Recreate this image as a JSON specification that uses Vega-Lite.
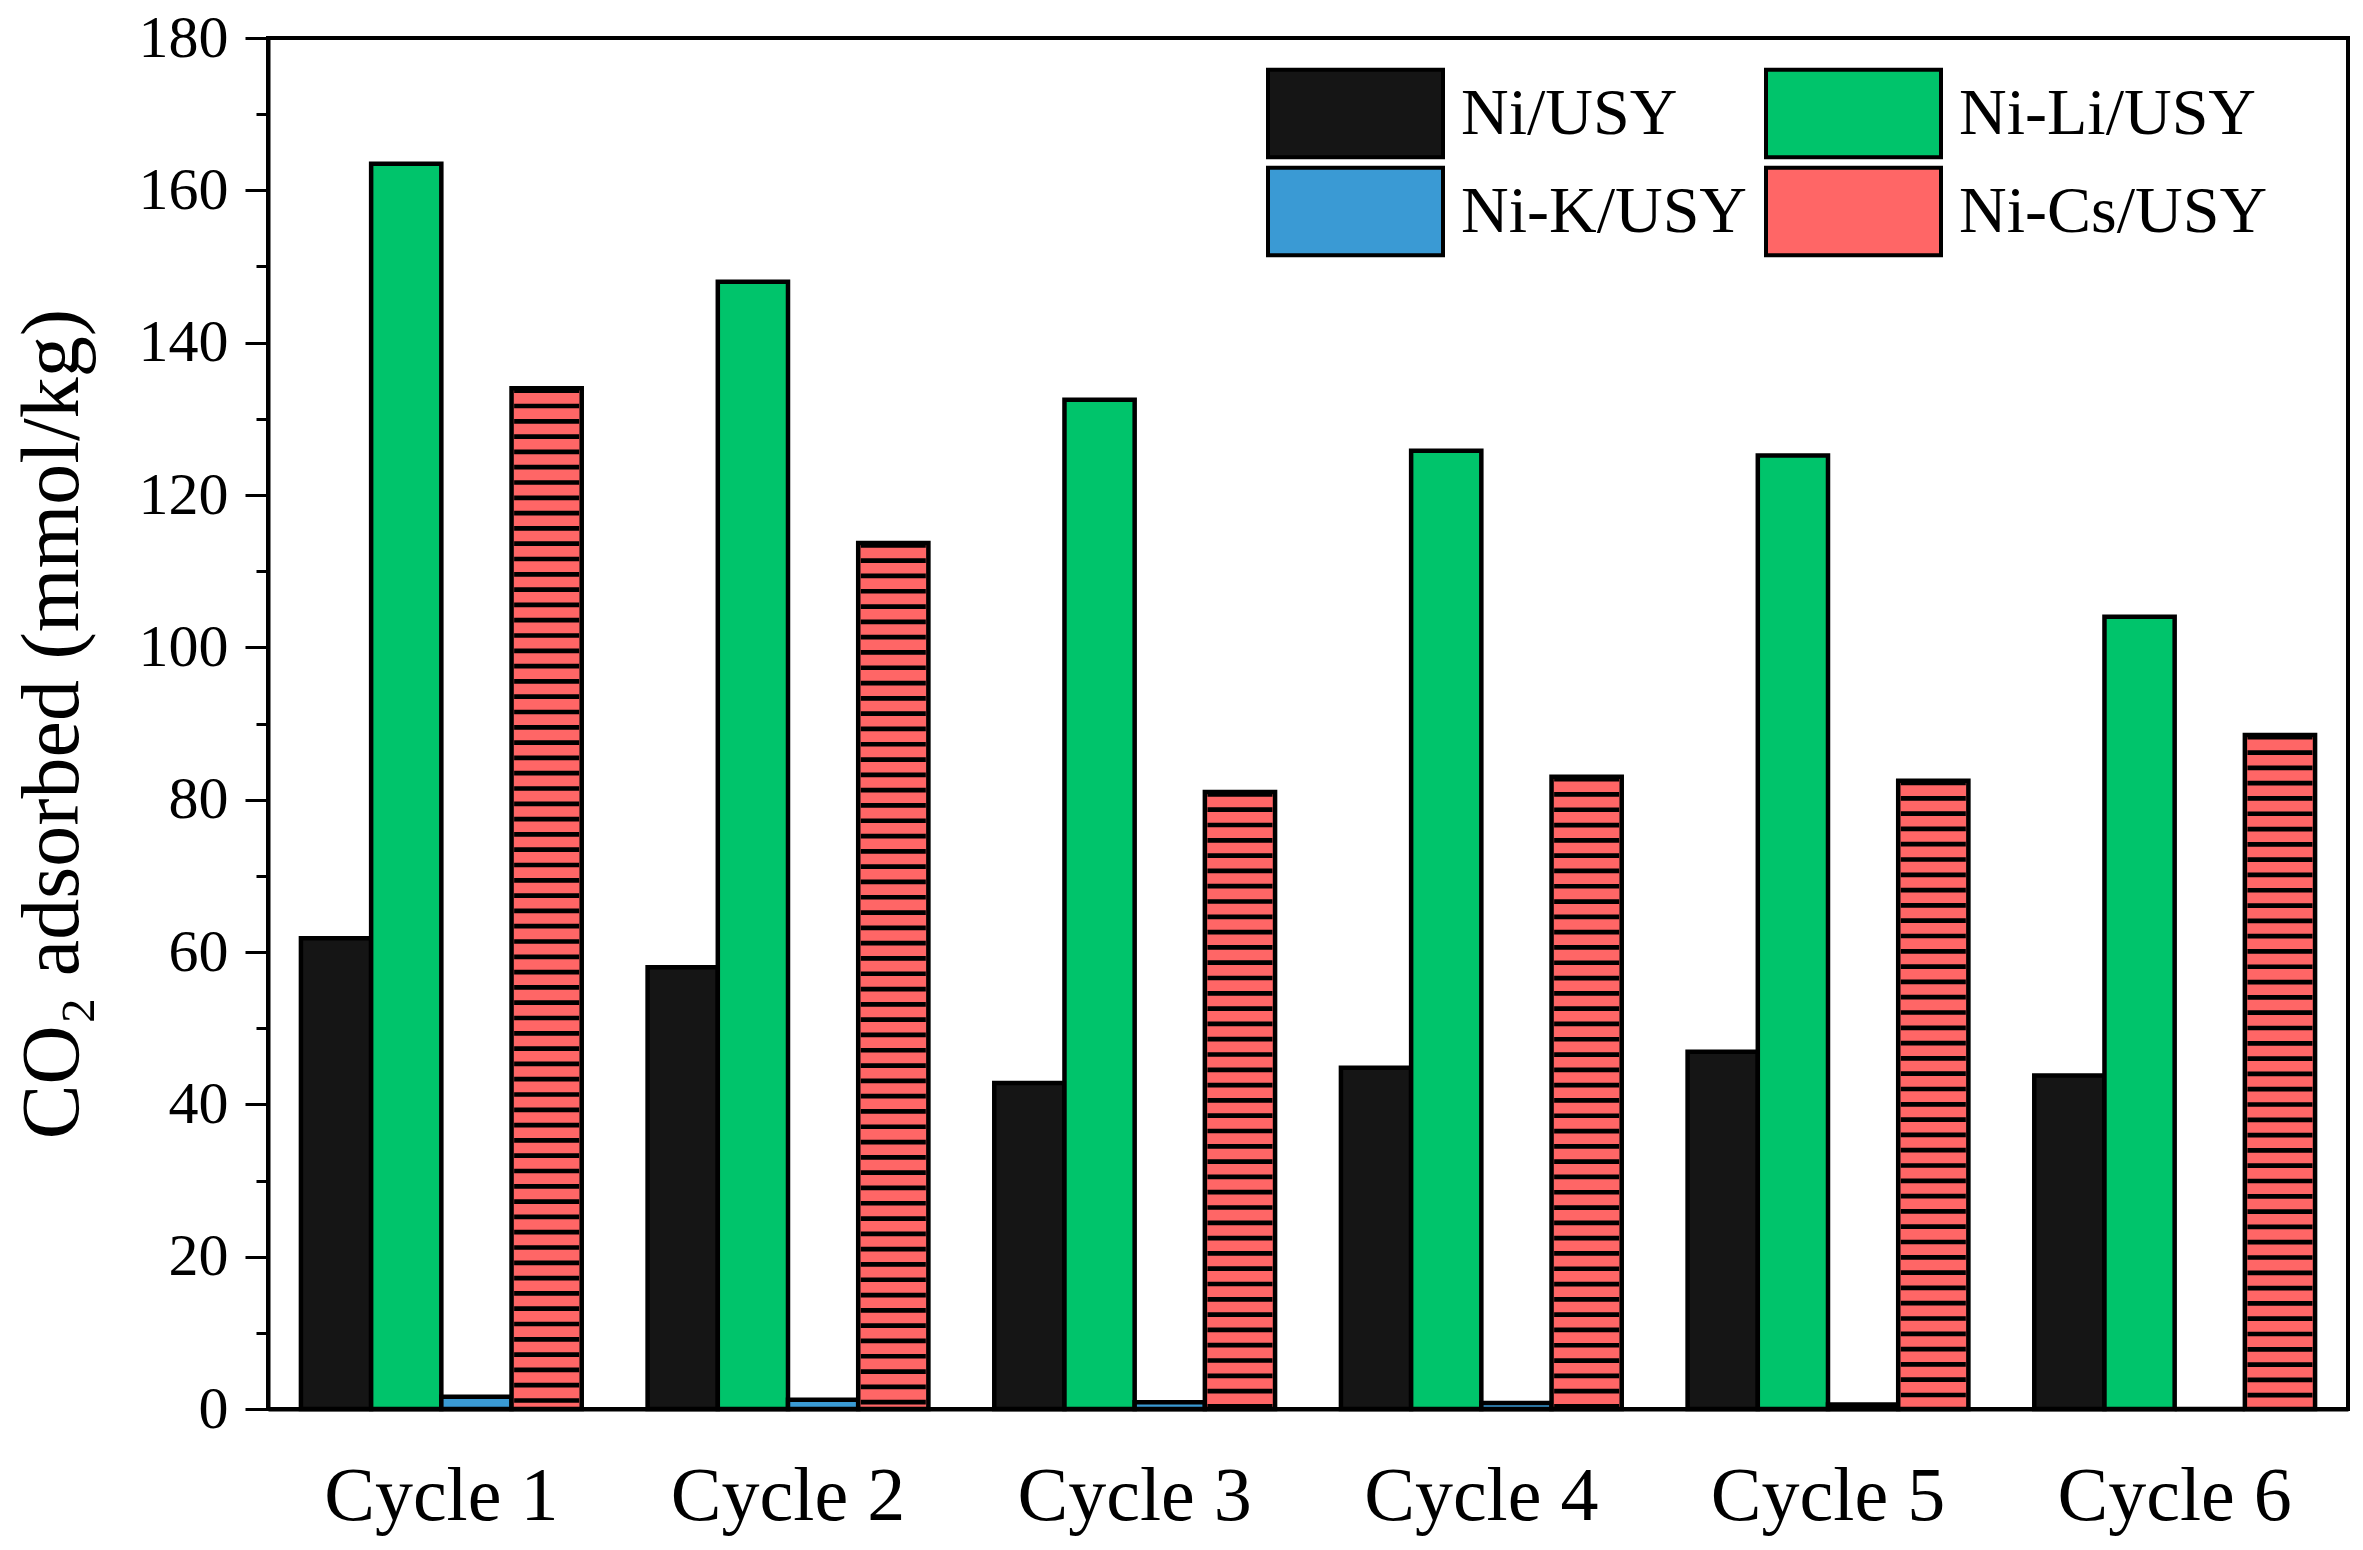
{
  "$schema": "https://vega.github.io/schema/vega-lite/v6.json",
  "width": 2080,
  "height": 1371,
  "autosize": {"type": "none"},
  "padding": {"left": 268, "top": 38, "right": 15, "bottom": 141},
  "background": "white",
  "config": {
    "view": {"stroke": "black", "strokeWidth": 4},
    "font": "Liberation Serif",
    "axis": {
      "grid": false,
      "domainColor": "black",
      "domainWidth": 4,
      "tickColor": "black",
      "tickWidth": 3,
      "labelColor": "black",
      "titleColor": "black",
      "labelFont": "Liberation Serif",
      "titleFont": "Liberation Serif",
      "titleFontWeight": "normal"
    }
  },
  "data": {
    "values": [
      {"cycle": "Cycle 1", "series": "Ni/USY", "value": 61.8},
      {"cycle": "Cycle 1", "series": "Ni-Li/USY", "value": 163.5},
      {"cycle": "Cycle 1", "series": "Ni-K/USY", "value": 1.6},
      {"cycle": "Cycle 1", "series": "Ni-Cs/USY", "value": 134},
      {"cycle": "Cycle 2", "series": "Ni/USY", "value": 58},
      {"cycle": "Cycle 2", "series": "Ni-Li/USY", "value": 148},
      {"cycle": "Cycle 2", "series": "Ni-K/USY", "value": 1.2},
      {"cycle": "Cycle 2", "series": "Ni-Cs/USY", "value": 113.7},
      {"cycle": "Cycle 3", "series": "Ni/USY", "value": 42.8},
      {"cycle": "Cycle 3", "series": "Ni-Li/USY", "value": 132.5},
      {"cycle": "Cycle 3", "series": "Ni-K/USY", "value": 0.9},
      {"cycle": "Cycle 3", "series": "Ni-Cs/USY", "value": 81},
      {"cycle": "Cycle 4", "series": "Ni/USY", "value": 44.8},
      {"cycle": "Cycle 4", "series": "Ni-Li/USY", "value": 125.8},
      {"cycle": "Cycle 4", "series": "Ni-K/USY", "value": 0.8},
      {"cycle": "Cycle 4", "series": "Ni-Cs/USY", "value": 83},
      {"cycle": "Cycle 5", "series": "Ni/USY", "value": 46.9},
      {"cycle": "Cycle 5", "series": "Ni-Li/USY", "value": 125.2},
      {"cycle": "Cycle 5", "series": "Ni-K/USY", "value": 0.6},
      {"cycle": "Cycle 5", "series": "Ni-Cs/USY", "value": 82.5},
      {"cycle": "Cycle 6", "series": "Ni/USY", "value": 43.8},
      {"cycle": "Cycle 6", "series": "Ni-Li/USY", "value": 104},
      {"cycle": "Cycle 6", "series": "Ni-K/USY", "value": 0},
      {"cycle": "Cycle 6", "series": "Ni-Cs/USY", "value": 88.5}
    ]
  },
  "layer": [
    {
      "mark": {"type": "bar", "stroke": "black", "strokeWidth": 4.5},
      "encoding": {
        "x": {
          "field": "cycle", "type": "nominal",
          "scale": {"paddingInner": 0.19, "paddingOuter": 0.095},
          "axis": {"title": null, "ticks": false, "labelAngle": 0, "labelFontSize": 76, "labelPadding": 50, "labelLimit": 0}
        },
        "xOffset": {
          "field": "series", "type": "nominal",
          "scale": {"domain": ["Ni/USY", "Ni-Li/USY", "Ni-K/USY", "Ni-Cs/USY"]}
        },
        "y": {
          "field": "value", "type": "quantitative",
          "scale": {"domain": [0, 180], "nice": false},
          "axis": {
            "title": "CO₂ adsorbed (mmol/kg)",
            "titleFontSize": 82,
            "titlePadding": 44,
            "values": [0, 10, 20, 30, 40, 50, 60, 70, 80, 90, 100, 110, 120, 130, 140, 150, 160, 170, 180],
            "labelExpr": "datum.value % 20 === 0 ? datum.label : ''",
            "tickSize": {"condition": {"test": "datum.value % 20 === 0", "value": 23}, "value": 12},
            "labelFontSize": 60,
            "labelPadding": 17
          }
        },
        "color": {
          "field": "series", "type": "nominal",
          "scale": {
            "domain": ["Ni/USY", "Ni-Li/USY", "Ni-K/USY", "Ni-Cs/USY"],
            "range": ["#151515", "#00C46B", "#3A9AD4", "#FF6666"]
          },
          "legend": {
            "title": null,
            "orient": "none",
            "direction": "horizontal",
            "legendX": 998,
            "legendY": -14,
            "columns": 2,
            "gridAlign": "none",
            "padding": 0,
            "symbolType": "M-1,-0.5H1V0.5H-1Z",
            "symbolSize": 30625,
            "symbolStrokeColor": "black",
            "symbolStrokeWidth": 4,
            "symbolOpacity": 1,
            "labelFont": "Liberation Serif",
            "labelFontSize": 66,
            "labelColor": "black",
            "labelOffset": 16,
            "labelLimit": 0,
            "columnPadding": 10,
            "rowPadding": -44,
            "encode": {
              "symbols": {
                "update": {
                  "stroke": {"value": "black"},
                  "strokeWidth": {"value": 4}
                }
              }
            }
          }
        }
      }
    },
    {
      "transform": [{"filter": "datum.series === 'Ni-Cs/USY'"}],
      "mark": {"type": "rule", "color": "black", "strokeWidth": 65, "strokeDash": [4.7, 10.6], "strokeCap": "butt"},
      "encoding": {
        "x": {"field": "cycle", "type": "nominal"},
        "xOffset": {"field": "series", "type": "nominal", "scale": {"domain": ["Ni/USY", "Ni-Li/USY", "Ni-K/USY", "Ni-Cs/USY"]}},
        "y": {"field": "value", "type": "quantitative"},
        "y2": {"datum": 0}
      }
    }
  ]
}
